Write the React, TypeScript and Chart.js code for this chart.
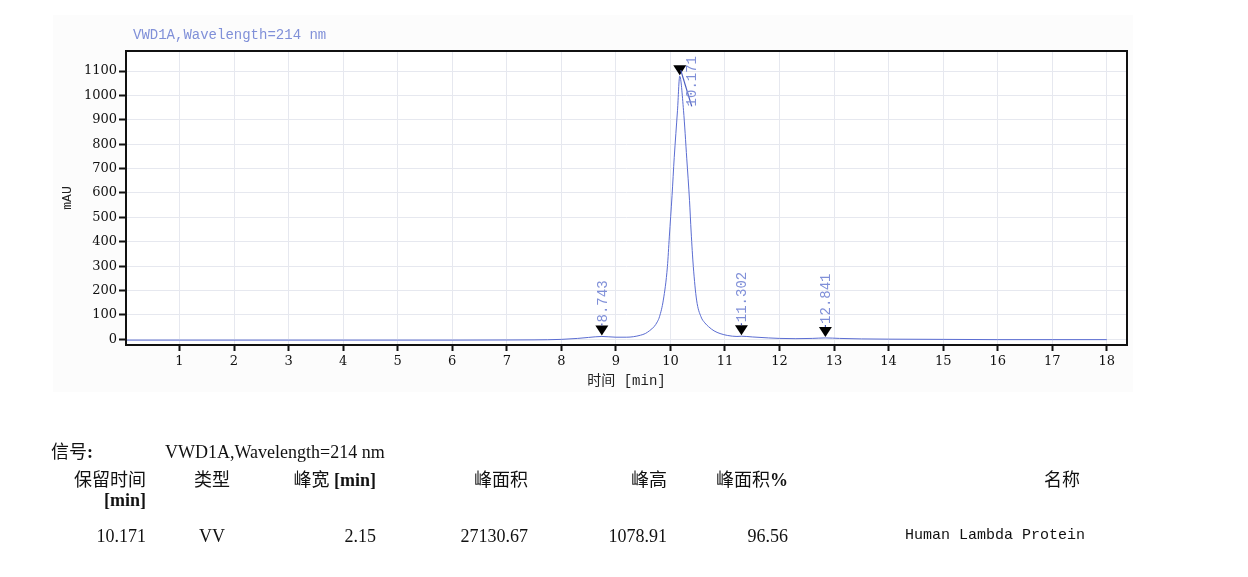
import React, { useEffect, useRef } from 'react';
import { Chart, registerables } from 'chart.js';

Chart.register(...registerables);

// ---------------- data ----------------
const SIGNAL_NAME = 'VWD1A,Wavelength=214 nm';
const X_TITLE = '时间 [min]';
const Y_TITLE = 'mAU';

const TIME = [
  0.0, 1, 2, 3, 4, 5, 6, 7, 7.5, 8.0, 8.3, 8.5, 8.743, 9.0, 9.2, 9.32, 9.45, 9.54, 9.62, 9.7,
  9.76, 9.8, 9.87, 9.945, 9.98, 10.03, 10.07, 10.13, 10.171, 10.24, 10.3, 10.35, 10.38, 10.42,
  10.48, 10.56, 10.63, 10.7, 10.8, 10.91, 11.05, 11.22, 11.302, 11.5, 11.8, 12.0, 12.3, 12.6,
  12.841, 13.1, 13.5, 14, 15, 16, 17, 18,
];
const MAU = [
  -3, -3, -3, -3, -3, -3, -3, -2.5, -2, 0, 4, 8, 12, 9, 9, 11, 17, 24, 36, 52,
  72, 93, 161, 298, 420, 590, 745, 939, 1078.91, 939, 740, 570, 440, 298,
  161, 93, 68, 52, 35, 24, 16, 12, 13, 10, 6, 4, 3, 4,
  6, 4, 2, 1, 0, -1, -1, -1,
];

const X_TICKS = [1, 2, 3, 4, 5, 6, 7, 8, 9, 10, 11, 12, 13, 14, 15, 16, 17, 18];
const Y_TICKS = [0, 100, 200, 300, 400, 500, 600, 700, 800, 900, 1000, 1100];
const X_MIN = 0.02;
const X_MAX = 18.37;
const Y_MIN = -23;
const Y_MAX = 1182;

const PEAK_RT = [8.743, 10.171, 11.302, 12.841];
const PEAK_LABELS = ['8.743', '10.171', '11.302', '12.841'];
const PEAK_MAU = [12, 1078.91, 13, 6];

const TABLE_SIGNAL_LABEL = '信号';
const TABLE_HEAD = ['保留时间', '类型', '峰宽', '峰面积', '峰高', '峰面积', '名称'];
const TABLE_ROW = ['10.171', 'VV', '2.15', '27130.67', '1078.91', '96.56', 'Human Lambda Protein'];

// ---------------- styles ----------------
const LINE_COLOR = '#5b6dd2';
const LABEL_COLOR = '#8090d8';
const GRID_COLOR = '#e6e8ef';
const AXIS_COLOR = '#111';
const TEXT_FONT = "'Liberation Serif', 'Noto Sans CJK SC', serif";

const W = 1248;
const CANVAS_H = 400;
const AREA = { left: 126, top: 51, right: 1127, bottom: 345 };

const decorPlugin = {
  id: 'decor',
  beforeDraw(chart: any) {
    const { ctx, chartArea } = chart;
    ctx.save();
    ctx.fillStyle = '#fcfcfc';
    ctx.fillRect(53, 15, 1080, 377);
    ctx.fillStyle = '#ffffff';
    ctx.fillRect(chartArea.left, chartArea.top, chartArea.right - chartArea.left, chartArea.bottom - chartArea.top);
    ctx.restore();
  },
  afterDatasetsDraw(chart: any) {
    const { ctx, chartArea } = chart;
    const xs = chart.scales.x;
    const ys = chart.scales.y;
    ctx.save();
    // frame
    ctx.strokeStyle = AXIS_COLOR;
    ctx.lineWidth = 2;
    ctx.strokeRect(chartArea.left, chartArea.top, chartArea.right - chartArea.left, chartArea.bottom - chartArea.top);

    // signal title
    ctx.fillStyle = LABEL_COLOR;
    ctx.font = "14px 'Liberation Mono', monospace";
    ctx.textAlign = 'left';
    ctx.textBaseline = 'middle';
    ctx.fillText(SIGNAL_NAME, chartArea.left + 7, 35);

    // axis titles
    ctx.fillStyle = '#222';
    ctx.font = "14px 'Liberation Mono', 'Noto Sans CJK SC', monospace";
    ctx.textAlign = 'center';
    ctx.textBaseline = 'middle';
    ctx.fillText(X_TITLE, (chartArea.left + chartArea.right) / 2, 381);
    ctx.save();
    ctx.translate(68, (chartArea.top + chartArea.bottom) / 2);
    ctx.rotate(-Math.PI / 2);
    ctx.font = "13px 'Liberation Mono', monospace";
    ctx.fillText(Y_TITLE, 0, 0);
    ctx.restore();

    // peaks
    ctx.font = "14px 'Liberation Mono', monospace";
    for (let i = 0; i < PEAK_RT.length; i++) {
      const px = xs.getPixelForValue(PEAK_RT[i]);
      const py = ys.getPixelForValue(PEAK_MAU[i]) - 1;
      // triangle
      ctx.fillStyle = '#000';
      ctx.beginPath();
      ctx.moveTo(px, py);
      ctx.lineTo(px - 6.5, py - 10);
      ctx.lineTo(px + 6.5, py - 10);
      ctx.closePath();
      ctx.fill();

      const label = PEAK_LABELS[i];
      const tw = ctx.measureText(label).width;
      let lx = px + 1;
      let ly = py - 13;
      let leader = false;
      if (ly - tw < chartArea.top + 3) {
        lx = px + 13;
        ly = chartArea.top + 5 + tw;
        leader = true;
      }
      ctx.strokeStyle = '#4a5cc0';
      ctx.lineWidth = 1.2;
      ctx.beginPath();
      if (leader) {
        ctx.moveTo(px + 1, py - 5);
        ctx.lineTo(lx - 1, ly);
      } else {
        ctx.moveTo(px, py - 10);
        ctx.lineTo(px, ly + 1);
      }
      ctx.stroke();

      ctx.save();
      ctx.translate(lx, ly);
      ctx.rotate(-Math.PI / 2);
      ctx.fillStyle = LABEL_COLOR;
      ctx.textAlign = 'left';
      ctx.textBaseline = 'middle';
      ctx.fillText(label, 0, 0);
      ctx.restore();
    }
    ctx.restore();
  },
};

function ChromChart() {
  const ref = useRef<HTMLCanvasElement | null>(null);
  useEffect(() => {
    if (!ref.current) return;
    const chart = new Chart(ref.current, {
      type: 'line',
      data: {
        datasets: [
          {
            data: TIME.map((t, i) => ({ x: t, y: MAU[i] })),
            borderColor: LINE_COLOR,
            borderWidth: 1,
            pointRadius: 0,
            cubicInterpolationMode: 'monotone',
            fill: false,
          },
        ],
      },
      options: {
        animation: false,
        responsive: false,
        maintainAspectRatio: false,
        layout: {
          padding: { left: 0, top: AREA.top, right: W - AREA.right, bottom: CANVAS_H - AREA.bottom - 40 },
        },
        plugins: { legend: { display: false }, tooltip: { enabled: false }, title: { display: false } },
        scales: {
          x: {
            type: 'linear',
            min: X_MIN,
            max: X_MAX,
            afterBuildTicks: (s: any) => {
              s.ticks = X_TICKS.map((v) => ({ value: v }));
            },
            afterFit: (s: any) => {
              s.height = 40;
            },
            grid: { color: GRID_COLOR, lineWidth: 1, tickColor: AXIS_COLOR, tickWidth: 2, tickLength: 6 },
            border: { display: false },
            ticks: {
              color: '#111',
              font: { family: 'DejaVu Serif', size: 13 },
              padding: 3,
              maxRotation: 0,
              autoSkip: false,
              callback: (v: any) => String(v),
            },
          },
          y: {
            type: 'linear',
            min: Y_MIN,
            max: Y_MAX,
            afterBuildTicks: (s: any) => {
              s.ticks = Y_TICKS.map((v) => ({ value: v }));
            },
            afterFit: (s: any) => {
              s.width = AREA.left;
            },
            grid: { color: GRID_COLOR, lineWidth: 1, tickColor: AXIS_COLOR, tickWidth: 2, tickLength: 7 },
            border: { display: false },
            ticks: {
              color: '#111',
              font: { family: 'DejaVu Serif', size: 13 },
              padding: 2,
              autoSkip: false,
              callback: (v: any) => String(v),
            },
          },
        },
      },
      plugins: [decorPlugin],
    } as any);
    return () => chart.destroy();
  }, []);
  return (
    <canvas
      ref={ref}
      width={W}
      height={CANVAS_H}
      style={{ position: 'absolute', left: 0, top: 0, width: W, height: CANVAS_H }}
    />
  );
}

const cellBase: React.CSSProperties = {
  position: 'absolute',
  fontFamily: TEXT_FONT,
  fontSize: 18,
  lineHeight: '20px',
  whiteSpace: 'nowrap',
  color: '#111',
};

function R({ right, cy, children }: { right: number; cy: number; children: any }) {
  return <span style={{ ...cellBase, right: W - right, top: cy - 10, textAlign: 'right' }}>{children}</span>;
}
function L({ left, cy, children, style }: { left: number; cy: number; children: any; style?: any }) {
  return <span style={{ ...cellBase, left, top: cy - 10, ...(style || {}) }}>{children}</span>;
}
function C({ center, cy, children }: { center: number; cy: number; children: any }) {
  return (
    <span style={{ ...cellBase, left: center - 60, width: 120, top: cy - 10, textAlign: 'center' }}>{children}</span>
  );
}

export default function App() {
  const b = { fontWeight: 'bold' as const };
  return (
    <div style={{ position: 'fixed', left: 0, top: 0, width: W, height: 577, background: '#fff', overflow: 'hidden' }}>
      <ChromChart />
      <div style={{ position: 'absolute', left: 0, top: 0, width: W, height: 577, willChange: 'transform' }}>
        <L left={51} cy={452}>
          {TABLE_SIGNAL_LABEL}
          <span style={b}>:</span>
        </L>
        <L left={165} cy={452}>{SIGNAL_NAME}</L>

        <R right={146} cy={480}>{TABLE_HEAD[0]}</R>
        <R right={146} cy={500}>
          <span style={b}>[min]</span>
        </R>
        <C center={212} cy={480}>{TABLE_HEAD[1]}</C>
        <R right={376} cy={480}>
          {TABLE_HEAD[2]} <span style={b}>[min]</span>
        </R>
        <R right={528} cy={480}>{TABLE_HEAD[3]}</R>
        <R right={667} cy={480}>{TABLE_HEAD[4]}</R>
        <R right={788} cy={480}>
          {TABLE_HEAD[5]}
          <span style={b}>%</span>
        </R>
        <R right={1080} cy={480}>{TABLE_HEAD[6]}</R>

        <R right={146} cy={536}>{TABLE_ROW[0]}</R>
        <C center={212} cy={536}>{TABLE_ROW[1]}</C>
        <R right={376} cy={536}>{TABLE_ROW[2]}</R>
        <R right={528} cy={536}>{TABLE_ROW[3]}</R>
        <R right={667} cy={536}>{TABLE_ROW[4]}</R>
        <R right={788} cy={536}>{TABLE_ROW[5]}</R>
        <L left={905} cy={536} style={{ fontFamily: "'Liberation Mono', monospace", fontSize: 15 }}>
          {TABLE_ROW[6]}
        </L>
      </div>
    </div>
  );
}
